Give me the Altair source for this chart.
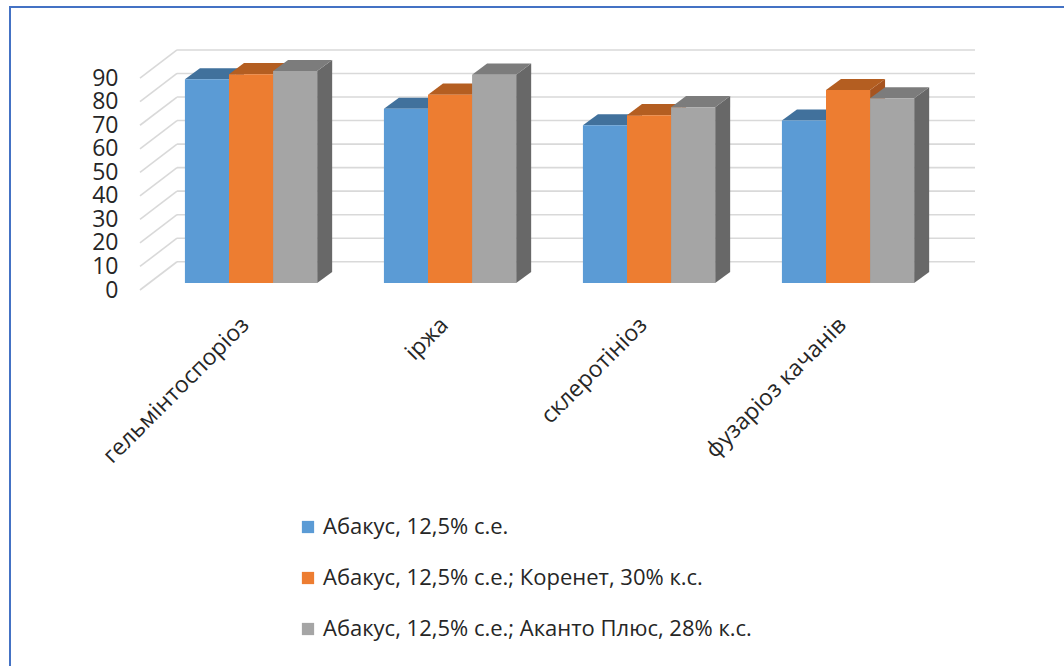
import json
import altair as alt
import pandas as pd

# ---------------- data ----------------
categories = ["гельмінтоспоріоз", "іржа", "склеротініоз", "фузаріоз качанів"]
series = [
    "Абакус, 12,5% с.е.",
    "Абакус, 12,5% с.е.; Коренет, 30% к.с.",
    "Абакус, 12,5% с.е.; Аканто Плюс, 28%  к.с.",
]
values_abakus = [86.5, 74.0, 67.0, 69.0]
values_korenet = [88.7, 80.0, 71.3, 82.0]
values_akanto = [90.0, 88.5, 74.7, 78.5]
y_ticks = [0, 10, 20, 30, 40, 50, 60, 70, 80, 90]

series_values = [values_abakus, values_korenet, values_akanto]

# ---------------- styles / 3D geometry ----------------
front_colors = ["#5B9BD5", "#ED7D31", "#A5A5A5"]
top_colors = ["#41719C", "#B45E21", "#7C7C7C"]
side_colors = ["#3C6893", "#A65420", "#686868"]
FONT = "Open Sans"
TEXT = "#262626"
GRID = "#D9D9D9"

BAR_W = 0.2215      # bar width in category units
DX = 0.0754         # depth offset (x, category units)
DY = 4.7            # depth offset (y, value units)
BASE = 3.0          # front-face base (value units above front floor edge)
WALL_DY = 12.0      # back wall offset (value units)
FRONT_X = -0.558    # front-left floor corner
WALL_X = -0.372     # back-left wall corner
X_MAX = 3.638
Y_MAX = 104.1

W, H = 835, 245

# ---------------- tables ----------------
front_rows, top_rows, side_rows = [], [], []
for ci, cat in enumerate(categories):
    for si, s in enumerate(series):
        v = series_values[si][ci]
        x0 = ci - 1.5 * BAR_W + si * BAR_W
        x1 = x0 + BAR_W
        T = BASE + v
        bid = f"{ci}-{si}"
        front_rows.append(dict(cat=cat, series=s, si=si, value=v, x0=x0, x1=x1, y0=BASE, y1=T))
        for px, lo, hi in [(x0, T, T), (x0 + DX, T, T + DY), (x1, T, T + DY), (x1 + DX, T + DY, T + DY)]:
            top_rows.append(dict(bid=bid, si=si, x=px, lo=lo, hi=hi))
        for px, lo, hi in [(x1, BASE, T), (x1 + DX, BASE + DY, T + DY)]:
            side_rows.append(dict(bid=bid, si=si, x=px, lo=lo, hi=hi))

front_df = pd.DataFrame(front_rows)
top_df = pd.DataFrame(top_rows)
side_df = pd.DataFrame(side_rows)

wall_df = pd.DataFrame(dict(v=y_ticks))
wall_df["yb"] = wall_df["v"] + WALL_DY
wall_df["fx"] = FRONT_X
wall_df["wx"] = WALL_X
wall_df["ex"] = X_MAX

xs = alt.Scale(domain=[FRONT_X, X_MAX], nice=False, zero=False)
ys = alt.Scale(domain=[0, Y_MAX], nice=False, zero=False)

label_expr = json.dumps(categories, ensure_ascii=False) + "[datum.value]"

x_axis = alt.Axis(
    values=[0, 1, 2, 3], labelExpr=label_expr, labelAngle=-45, labelAlign="right",
    labelBaseline="middle", labelPadding=31, labelOffset=-6, labelFlush=False,
    labelOverlap=False, labelLimit=1000,
    labelFontSize=23, labelFont=FONT, labelColor=TEXT, domain=False, ticks=False,
    grid=False, title=None,
)
y_axis = alt.Axis(
    values=y_ticks, labelFontSize=23, labelFont=FONT, labelColor=TEXT, labelPadding=22,
    labelOverlap=False, labelFlush=False, labelSeparation=0,
    domain=False, ticks=False, grid=False, title=None,
)


def X(field):
    return alt.X(field, scale=xs, axis=x_axis)


def Y(field):
    return alt.Y(field, scale=ys, axis=y_axis)


# back wall horizontal gridlines
wall_lines = alt.Chart(wall_df).mark_rule(color=GRID, strokeWidth=1.6).encode(
    x=X("wx:Q"), x2="ex:Q", y=Y("yb:Q"),
)
# side wall diagonal gridlines
diag_lines = alt.Chart(wall_df).mark_rule(color=GRID, strokeWidth=1.6).encode(
    x=X("fx:Q"), x2="wx:Q", y=Y("v:Q"), y2="yb:Q",
)

layers = [wall_lines, diag_lines]

color_enc = alt.Color(
    "series:N",
    scale=alt.Scale(domain=series, range=front_colors),
    sort=series,
    legend=alt.Legend(
        title=None, orient="none", legendX=157, legendY=471, symbolType="square",
        symbolSize=150, symbolStrokeWidth=0, labelFontSize=22, labelFont=FONT,
        labelColor=TEXT, rowPadding=29, labelOffset=4, padding=0, labelLimit=700,
    ),
)

for si, s in enumerate(series):
    side = alt.Chart(side_df).transform_filter(alt.datum.si == si).mark_area(
        orient="vertical", color=side_colors[si]
    ).encode(x=X("x:Q"), y=Y("lo:Q"), y2="hi:Q", detail="bid:N")
    top = alt.Chart(top_df).transform_filter(alt.datum.si == si).mark_area(
        orient="vertical", color=top_colors[si]
    ).encode(x=X("x:Q"), y=Y("lo:Q"), y2="hi:Q", detail="bid:N")
    front = alt.Chart(front_df).transform_filter(alt.datum.si == si).mark_rect().encode(
        x=X("x0:Q"), x2="x1:Q", y=Y("y0:Q"), y2="y1:Q", color=color_enc,
    )
    layers += [side, top, front]

# screenshot frame (left and top border)
frame_df = pd.DataFrame({"a": [0]})
frame_left = alt.Chart(frame_df).mark_rule(color="#4472C4", strokeWidth=2).encode(
    x=alt.value(-130), y=alt.value(-38), y2=alt.value(640)
)
frame_top = alt.Chart(frame_df).mark_rule(color="#4472C4", strokeWidth=2).encode(
    x=alt.value(-131), x2=alt.value(940), y=alt.value(-38)
)
layers += [frame_left, frame_top]

chart = alt.layer(*layers).properties(
    width=W, height=H,
    autosize=alt.AutoSizeParams(type="none"),
    padding={"left": 140, "top": 45, "right": 1064 - 140 - W, "bottom": 666 - 45 - H},
    background="white",
).configure_view(stroke=None).configure_axis(labelOverlap=False)

chart.save("out.html", embed_options={"renderer": "svg", "actions": False})
